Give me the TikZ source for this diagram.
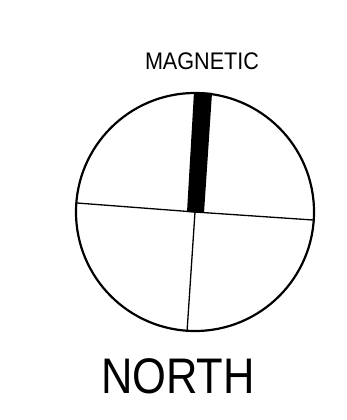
\documentclass[tikz,border=0pt]{standalone}
\usepackage{fontspec}
\setmainfont{Liberation Sans}
\begin{document}
\begin{tikzpicture}[x=1pt,y=-1pt,
  ring/.style={line width=2.2pt},
  axis/.style={line width=1.3pt},
  needle/.style={fill=black},
  lbl/.style={inner sep=0pt,font=\fontsize{24}{24}\selectfont}]
\useasboundingbox (0,0) rectangle (347,420);
\coordinate (c) at (195,212);
\coordinate (w) at (77,203);
\coordinate (e) at (313,220);
\coordinate (s) at (187,332);
\fill[needle] (194,92) -- (212,93) -- (204,213) -- (187,212) -- cycle;
\draw[axis] (w) -- (c) -- (e);
\draw[axis] (c) -- (s);
\draw[ring] (c) circle[radius=119];
\node[lbl,xscale=0.9] (mag) at (202,61) {MAGNETIC};
\node[inner sep=0pt,font=\fontsize{50}{50}\selectfont,xscale=0.87] (north) at (178,376) {NORTH};
\end{tikzpicture}
\end{document}
